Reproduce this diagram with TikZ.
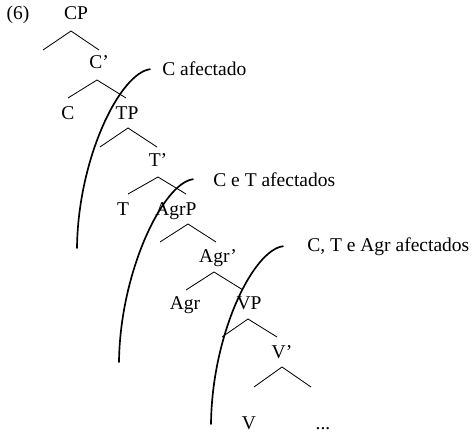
\documentclass[tikz,border=0pt]{standalone}
\usepackage{fontspec}
\setmainfont{Liberation Serif}
\usetikzlibrary{positioning, calc}
\tikzset{
  cat/.style={anchor=base, inner sep=0pt, font=\fontsize{11.7}{14}\selectfont},
  note/.style={cat, anchor=base west},
  branch/.style={line width=0.5pt, draw=black},
  cut/.style={line width=1pt, draw=black, line cap=round},
}
\begin{document}
\begin{tikzpicture}[x=0.6pt, y=-0.6pt]
  \useasboundingbox (0,0) rectangle (473,433);
  % categories
  \node[cat] (ex) at (18,20) {(6)};
  \node[cat] (cp) at (76,20) {CP};
  \node[cat] (cbar) at (99,69) {C'};
  \node[cat] (c) at (68,120) {C};
  \node[cat] (tp) at (127,120) {TP};
  \node[cat] (tbar) at (158,166) {T'};
  \node[cat] (t) at (123,215) {T};
  \node[cat] (agrp) at (176,215) {AgrP};
  \node[cat] (agrbar) at (218,262) {Agr'};
  \node[cat] (agr) at (185,309) {Agr};
  \node[cat] (vp) at (249,309) {VP};
  \node[cat] (vbar) at (282,358) {V'};
  \node[cat] (v) at (249,429) {V};
  \node[cat] (dots) at (323,429) {...};
  % branches
  \coordinate (cp-l) at (43,50);   \coordinate (cp-a) at (71,31);   \coordinate (cp-r) at (99,50);
  \coordinate (cb-l) at (68,98);   \coordinate (cb-a) at (97,80);   \coordinate (cb-r) at (126,98);
  \coordinate (tp-l) at (100,147); \coordinate (tp-a) at (128,128); \coordinate (tp-r) at (157,147);
  \coordinate (tb-l) at (128,194); \coordinate (tb-a) at (158,177); \coordinate (tb-r) at (186,194);
  \coordinate (ap-l) at (160,242); \coordinate (ap-a) at (188,224); \coordinate (ap-r) at (216,242);
  \coordinate (ab-l) at (186,290); \coordinate (ab-a) at (214,272); \coordinate (ab-r) at (243,290);
  \coordinate (vp-l) at (222,337); \coordinate (vp-a) at (248,319); \coordinate (vp-r) at (277,337);
  \coordinate (vb-l) at (254,387); \coordinate (vb-a) at (282,367); \coordinate (vb-r) at (311,387);
  \draw[branch] (cp-l) -- (cp-a) -- (cp-r);
  \draw[branch] (cb-l) -- (cb-a) -- (cb-r);
  \draw[branch] (tp-l) -- (tp-a) -- (tp-r);
  \draw[branch] (tb-l) -- (tb-a) -- (tb-r);
  \draw[branch] (ap-l) -- (ap-a) -- (ap-r);
  \draw[branch] (ab-l) -- (ab-a) -- (ab-r);
  \draw[branch] (vp-l) -- (vp-a) -- (vp-r);
  \draw[branch] (vb-l) -- (vb-a) -- (vb-r);
  % affected domains
  \node[note] (la) at (162,76) {C afectado};
  \node[note] (lb) at (213,186) {C e T afectados};
  \node[note] (lc) at (307,251) {C, T e Agr afectados};
  \coordinate (ea) at (77,248);
  \coordinate (eb) at (119,362);
  \coordinate (ec) at (211,424);
  \draw[cut] ($(la.west)+(-12,0)$) .. controls +(-30,4) and +(1,-90) .. (ea);
  \draw[cut] ($(lb.west)+(-20,0)$) .. controls +(-30,4) and +(1,-90) .. (eb);
  \draw[cut] ($(lc.west)+(-24,0)$) .. controls +(-30,4) and +(1,-90) .. (ec);
\end{tikzpicture}
\end{document}
